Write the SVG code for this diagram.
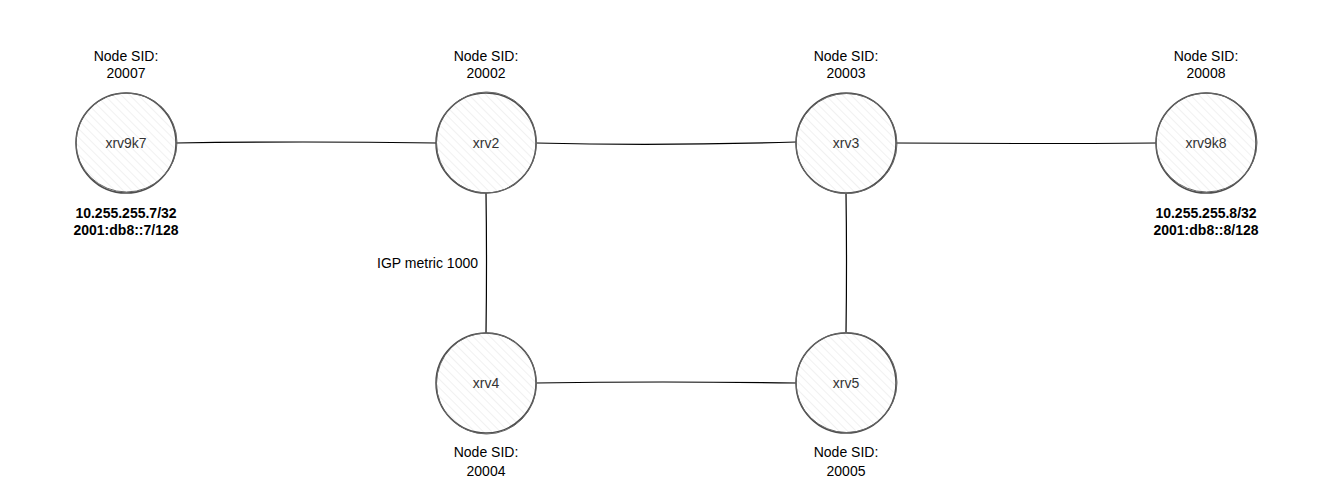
<svg xmlns="http://www.w3.org/2000/svg" width="1330" height="485" viewBox="0 0 1330 485">
<defs>
<pattern id="hatch" width="6" height="6" patternUnits="userSpaceOnUse" patternTransform="rotate(-45)">
<rect width="6" height="6" fill="#ffffff"/>
<line x1="0" y1="0" x2="0" y2="6" stroke="#e3e3e3" stroke-width="1"/>
</pattern>
<style>
.node circle{fill:url(#hatch);stroke:#4d4d4d;stroke-width:1.5}
.node .r2{fill:none;stroke:#666;stroke-width:1}
.name{font-family:"Liberation Sans",Arial,sans-serif;font-size:14px;fill:#333;text-anchor:middle}
.lbl{font-family:"Liberation Sans",Arial,sans-serif;font-size:14px;fill:#000;text-anchor:middle}
.bold{font-weight:bold}
.edge{stroke:#000;stroke-width:1.2;fill:none}
</style>
</defs>
<rect width="1330" height="485" fill="#ffffff"/>
<g id="connectors">
<path class="edge" d="M176 143 Q300 141 436 143"/>
<path class="edge" d="M536 143 Q660 146 796 142"/>
<path class="edge" d="M896 143 Q1030 144 1156 143"/>
<path class="edge" d="M486 193 Q487 260 486 333"/>
<path class="edge" d="M846 193 Q847 260 846 333"/>
<path class="edge" d="M536 383 Q660 381 796 383"/>
<text class="lbl" x="478" y="268" style="text-anchor:end">IGP metric 1000</text>
</g>
<g id="xrv9k7" class="node">
<circle cx="126" cy="143" r="50"/>
<ellipse class="r2" cx="126.5" cy="142.5" rx="50.5" ry="49.5"/>
<text class="name" x="126" y="148">xrv9k7</text>
<text class="lbl" x="126" y="61">Node SID:</text>
<text class="lbl" x="126" y="78">20007</text>
<text class="lbl bold" x="126" y="218">10.255.255.7/32</text>
<text class="lbl bold" x="126" y="235">2001:db8::7/128</text>
</g>
<g id="xrv2" class="node">
<circle cx="486" cy="143" r="50"/>
<ellipse class="r2" cx="486.5" cy="142.5" rx="50" ry="50.5"/>
<text class="name" x="486" y="148">xrv2</text>
<text class="lbl" x="486" y="61">Node SID:</text>
<text class="lbl" x="486" y="78">20002</text>
</g>
<g id="xrv3" class="node">
<circle cx="846" cy="143" r="50"/>
<ellipse class="r2" cx="846.5" cy="143.5" rx="50.5" ry="50"/>
<text class="name" x="846" y="148">xrv3</text>
<text class="lbl" x="846" y="61">Node SID:</text>
<text class="lbl" x="846" y="78">20003</text>
</g>
<g id="xrv9k8" class="node">
<circle cx="1206" cy="143" r="50"/>
<ellipse class="r2" cx="1206.5" cy="142.5" rx="50.5" ry="49.5"/>
<text class="name" x="1206" y="148">xrv9k8</text>
<text class="lbl" x="1206" y="61">Node SID:</text>
<text class="lbl" x="1206" y="78">20008</text>
<text class="lbl bold" x="1206" y="218">10.255.255.8/32</text>
<text class="lbl bold" x="1206" y="235">2001:db8::8/128</text>
</g>
<g id="xrv4" class="node">
<circle cx="486" cy="383" r="50"/>
<ellipse class="r2" cx="486.5" cy="383.5" rx="50" ry="50.5"/>
<text class="name" x="486" y="388">xrv4</text>
<text class="lbl" x="486" y="457">Node SID:</text>
<text class="lbl" x="486" y="476">20004</text>
</g>
<g id="xrv5" class="node">
<circle cx="846" cy="383" r="50"/>
<ellipse class="r2" cx="846.5" cy="382.5" rx="50.5" ry="50"/>
<text class="name" x="846" y="388">xrv5</text>
<text class="lbl" x="846" y="457">Node SID:</text>
<text class="lbl" x="846" y="476">20005</text>
</g>
</svg>
